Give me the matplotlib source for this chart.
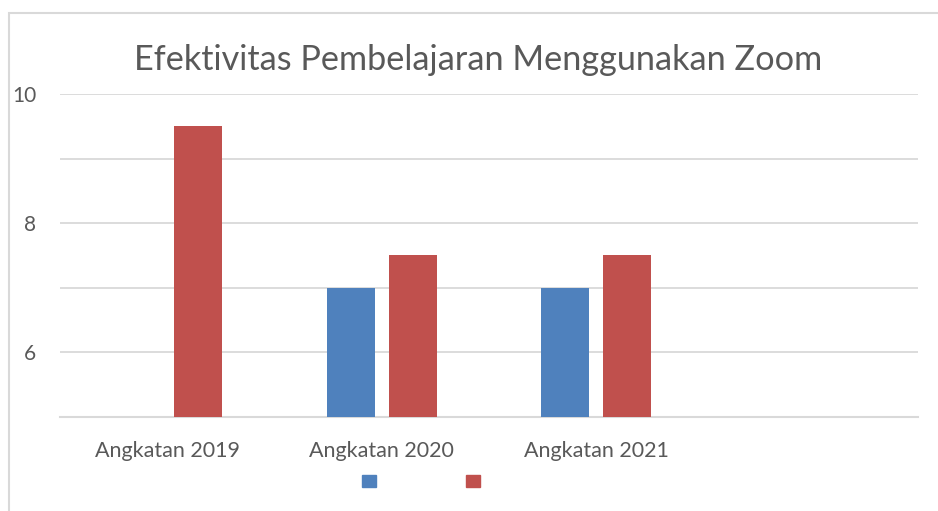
import matplotlib.pyplot as plt
import numpy as np
from matplotlib.patches import Rectangle, Patch

categories = ["Angkatan 2019", "Angkatan 2020", "Angkatan 2021", ""]
blue_vals = [np.nan, 7.0, 7.0, np.nan]
red_vals = [9.5, 7.5, 7.5, np.nan]
yticks = [6, 8, 10]

BLUE = "#4F81BD"
RED = "#C0504D"
GRID = "#D9D9D9"
TEXT = "#595959"

plt.rcParams["font.family"] = ["Lato", "DejaVu Sans"]

fig = plt.figure(figsize=(9.38, 5.11), dpi=100)
fig.patch.set_facecolor("white")
ax = fig.add_axes([60 / 938, 1 - 417 / 511, 858 / 938, 323 / 511])

x = np.arange(len(categories))
w = 0.224
ax.bar(x - 0.145, blue_vals, width=w, color=BLUE, zorder=3)
ax.bar(x + 0.145, red_vals, width=w, color=RED, zorder=3)

ax.set_xlim(-0.5, 3.5)
ax.set_ylim(5, 10)
ax.set_yticks([5, 6, 7, 8, 9, 10])
ax.set_yticklabels(["" if v not in yticks else str(v) for v in [5, 6, 7, 8, 9, 10]])
ax.set_xticks(x)
ax.set_xticklabels(categories)
ax.tick_params(axis="both", length=0, colors=TEXT)
ax.tick_params(axis="y", pad=17, labelsize=15)
ax.tick_params(axis="x", pad=17, labelsize=15.5)
ax.grid(axis="y", color=GRID, linewidth=1.3, zorder=0)
for s in ["top", "right", "left"]:
    ax.spines[s].set_visible(False)
ax.spines["bottom"].set_color(GRID)
ax.spines["bottom"].set_linewidth(1.5)

fig.text(478 / 938, 1 - 60 / 511, "Efektivitas Pembelajaran Menggunakan Zoom",
         ha="center", va="center", fontsize=24.7, color=TEXT)

handles = [Patch(color=BLUE), Patch(color=RED)]
fig.legend(handles, ["", ""], ncol=2, loc="center",
           bbox_to_anchor=(421 / 938, 1 - 481 / 511), frameon=False,
           handlelength=1, handleheight=1, handletextpad=0, columnspacing=6.5,
           fontsize=10)

fig.add_artist(Rectangle((9 / 938, -0.1), 1.2, 1 - 13 / 511 + 0.1,
                         transform=fig.transFigure, fill=False,
                         edgecolor=GRID, linewidth=1.5))

plt.savefig("out.png", dpi=100, facecolor="white")
